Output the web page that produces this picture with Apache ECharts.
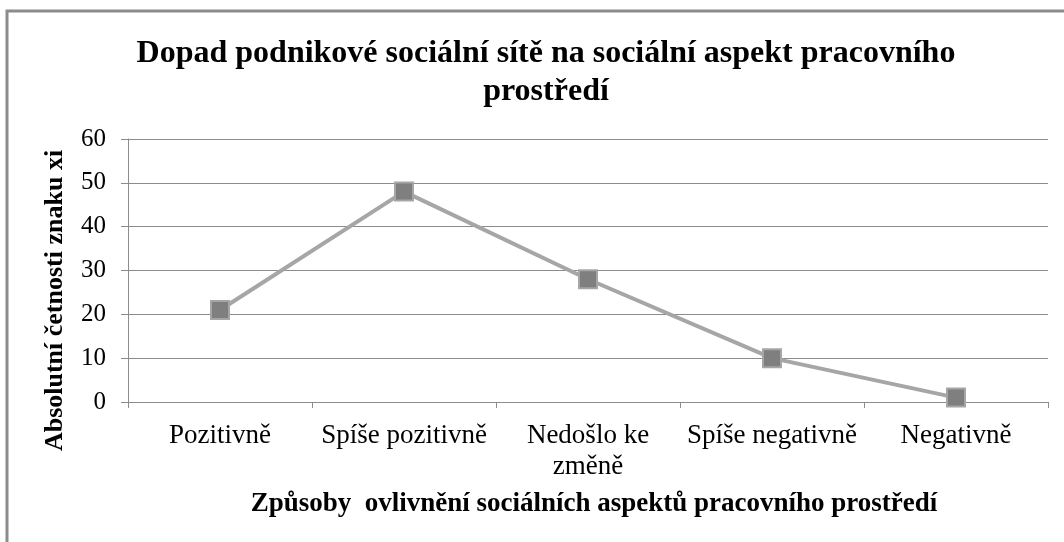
<!DOCTYPE html>
<html>
<head>
<meta charset="utf-8">
<script src="https://cdn.jsdelivr.net/npm/echarts@6/dist/echarts.min.js"></script>
<style>
  html, body { margin: 0; padding: 0; background: #fff; }
  #chart { width: 1064px; height: 542px; }
</style>
</head>
<body>
<div id="chart"></div>
<script>
"use strict"

const titleText = "Dopad podnikové sociální sítě na sociální aspekt pracovního\nprostředí"
const categories = ["Pozitivně", "Spíše pozitivně", "Nedošlo ke\nzměně", "Spíše negativně", "Negativně"]
const counts = [21, 48, 28, 10, 1]
const yName = "Absolutní četnosti znaku xi"
const xName = "Způsoby  ovlivnění sociálních aspektů pracovního prostředí"

const serif = "'Liberation Serif', 'DejaVu Serif', serif"

const chart = echarts.init(document.getElementById("chart"), null, { renderer: "canvas" })

chart.setOption({
  backgroundColor: "#fff",
  animation: false,
  title: {
    text: titleText,
    left: 541,
    top: 30,
    textAlign: "center",
    textStyle: {
      fontFamily: serif,
      fontWeight: "bold",
      fontSize: 32,
      lineHeight: 38,
      color: "#000",
    },
  },
  graphic: [
    {
      type: "rect",
      shape: { x: 7, y: 11, width: 1100, height: 600 },
      style: { fill: "none", stroke: "#8c8c8c", lineWidth: 3 },
      silent: true,
    },
  ],
  grid: { left: 128, right: 16, top: 139, bottom: 140 },
  xAxis: {
    type: "category",
    data: categories,
    boundaryGap: true,
    name: xName,
    nameLocation: "middle",
    nameGap: 89,
    nameTextStyle: {
      fontFamily: serif,
      fontWeight: "bold",
      fontSize: 27,
      color: "#000",
      padding: [0, 0, 0, 12],
    },
    axisLine: { lineStyle: { color: "#8c8c8c", width: 1 } },
    axisTick: { show: true, alignWithLabel: false, length: 6, lineStyle: { color: "#8c8c8c" } },
    axisLabel: {
      interval: 0,
      margin: 18,
      fontFamily: serif,
      fontSize: 27,
      lineHeight: 31,
      color: "#000",
    },
    splitLine: { show: false },
  },
  yAxis: {
    type: "value",
    min: 0,
    max: 60,
    interval: 10,
    name: yName,
    nameLocation: "middle",
    nameGap: 60,
    nameTextStyle: {
      fontFamily: serif,
      fontWeight: "bold",
      fontSize: 26,
      color: "#000",
      padding: [0, 60, 0, 0],
    },
    axisLine: { show: true, lineStyle: { color: "#8c8c8c", width: 1 } },
    axisTick: { show: true, length: 7, lineStyle: { color: "#8c8c8c" } },
    axisLabel: {
      margin: 22,
      fontFamily: serif,
      fontSize: 25,
      color: "#000",
    },
    splitLine: { show: true, lineStyle: { color: "#8c8c8c", width: 1 } },
  },
  series: [
    {
      type: "line",
      data: counts,
      symbol: "rect",
      symbolSize: 18,
      lineStyle: { color: "#a6a6a6", width: 4 },
      itemStyle: { color: "#7f7f7f", borderColor: "#a6a6a6", borderWidth: 2 },
      z: 3,
    },
  ],
})
</script>
</body>
</html>
